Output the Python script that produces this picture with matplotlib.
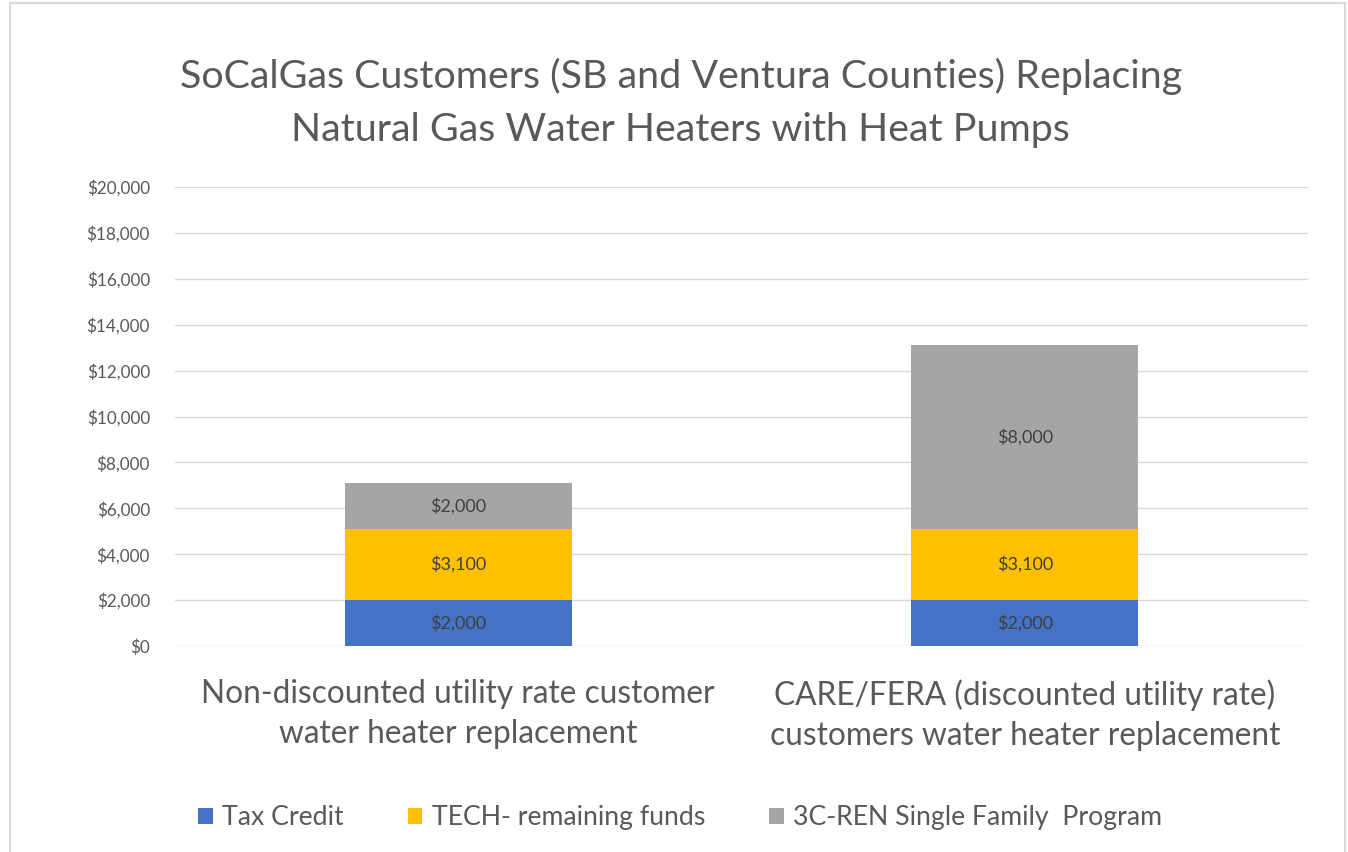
import numpy as np
import matplotlib.pyplot as plt
from matplotlib.patches import Rectangle

plt.rcParams['font.family'] = ['Lato', 'DejaVu Sans']

categories = ["Non-discounted utility rate customer\nwater heater replacement",
              "CARE/FERA (discounted utility rate)\ncustomers water heater replacement"]
series_names = ["Tax Credit", "TECH- remaining funds", "3C-REN Single Family  Program"]
tax_credit = [2000, 2000]
tech_funds = [3100, 3100]
cren_program = [2000, 8000]
colors = ["#4472C4", "#FFC000", "#A5A5A5"]
yticks = list(range(0, 20001, 2000))

fig = plt.figure(figsize=(13.48, 8.52), dpi=100)
ax = fig.add_axes([0.1298, 0.2418, 0.8405, 0.5387])

x = np.arange(len(categories))
bottom = np.zeros(len(categories))
for name, vals, col in zip(series_names, [tax_credit, tech_funds, cren_program], colors):
    bars = ax.bar(x, vals, width=0.4, bottom=bottom, color=col, label=name, zorder=3)
    for rect, v in zip(bars, vals):
        ax.text(rect.get_x() + rect.get_width() / 2, rect.get_y() + rect.get_height() / 2,
                f"${v:,.0f}", ha='center', va='center', fontsize=13, color='#404040', zorder=4)
    bottom += np.array(vals)

ax.set_xlim(-0.5, 1.5)
ax.set_ylim(0, 20000)
ax.set_yticks(yticks)
ax.set_yticklabels([f"${v:,}" for v in yticks], fontsize=12.3, color='#595959')
ax.set_xticks(x)
ax.set_xticklabels(categories, fontsize=22.8, color='#595959', linespacing=1.4)
ax.tick_params(axis='both', length=0)
ax.tick_params(axis='y', pad=18)
ax.tick_params(axis='x', pad=24)
ax.grid(axis='y', color='#D9D9D9', linewidth=1, zorder=0)
for s in ax.spines.values():
    s.set_visible(False)

fig.text(0.505, 0.879, "SoCalGas Customers (SB and Ventura Counties) Replacing\nNatural Gas Water Heaters with Heat Pumps",
         ha='center', va='center', fontsize=28.4, color='#595959', linespacing=1.57)

fig.legend(loc='center', bbox_to_anchor=(0.5045, 0.04), ncol=3, frameon=False,
           fontsize=19.2, labelcolor='#595959', handlelength=0.55, handleheight=0.55,
           handletextpad=0.35, columnspacing=2.4)

fig.patches.append(Rectangle((0.0075, -0.01), 0.99, 1.0065, transform=fig.transFigure,
                             fill=False, edgecolor='#D9D9D9', linewidth=1.5))

fig.savefig("out.png", dpi=100)
